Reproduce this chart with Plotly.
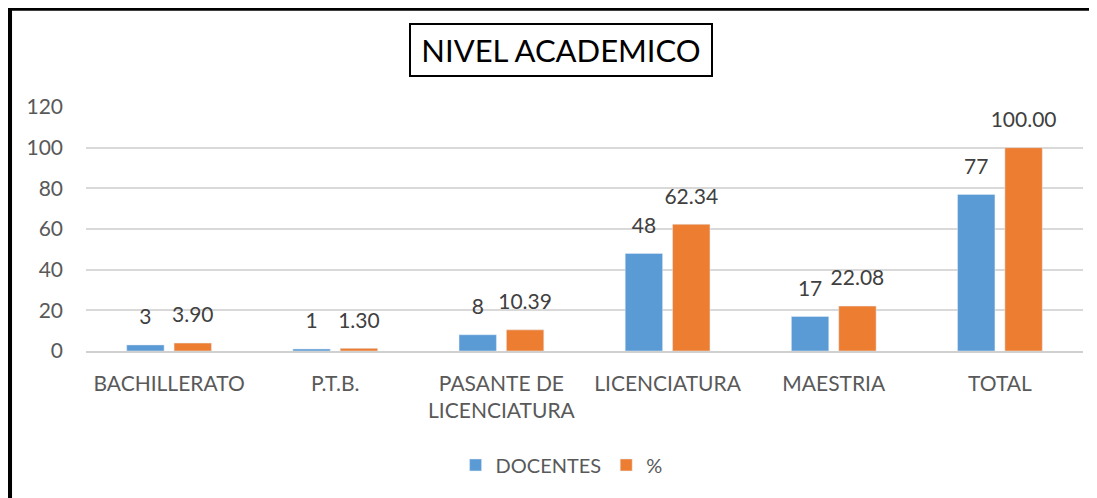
import plotly.graph_objects as go

categorias = ["BACHILLERATO", "P.T.B.", "PASANTE DE<br>LICENCIATURA", "LICENCIATURA", "MAESTRIA", "TOTAL"]
docentes = [3, 1, 8, 48, 17, 77]
porcentaje = [3.90, 1.30, 10.39, 62.34, 22.08, 100.00]

azul = "#5B9BD5"
naranja = "#ED7D31"
fuente = "Lato"

fig = go.Figure()
fig.add_trace(go.Bar(x=categorias, y=docentes, name="DOCENTES", marker_color=azul,
                     offsetgroup="d", hoverinfo="skip"))
fig.add_trace(go.Bar(x=categorias, y=porcentaje, name="%", marker_color=naranja,
                     offsetgroup="p", hoverinfo="skip"))

# etiquetas de datos, separadas de la barra como en Excel
fig.add_trace(go.Scatter(x=categorias, y=docentes, mode="markers+text",
                         text=[str(v) for v in docentes], textposition="top center",
                         marker=dict(size=23, opacity=0), offsetgroup="d",
                         textfont=dict(family=fuente, size=21, color="#404040"),
                         showlegend=False, hoverinfo="skip"))
fig.add_trace(go.Scatter(x=categorias, y=porcentaje, mode="markers+text",
                         text=[f"{v:.2f}" for v in porcentaje], textposition="top center",
                         marker=dict(size=23, opacity=0), offsetgroup="p",
                         textfont=dict(family=fuente, size=21, color="#404040"),
                         showlegend=False, hoverinfo="skip"))

# la pagina tiene 8px de margen, por eso la figura es 8px mas pequena
fig.update_layout(
    width=1089, height=490, autosize=False,
    margin=dict(l=78, r=14, t=99, b=147),
    paper_bgcolor="white", plot_bgcolor="white",
    font=dict(family=fuente, size=21, color="#595959"),
    barmode="group", bargap=0.43, bargroupgap=0.21,
    scattermode="group", scattergap=0.43,
    showlegend=True,
    legend=dict(orientation="h", x=0.477, xanchor="center", y=-0.467, yanchor="middle",
                font=dict(size=20, color="#595959"), itemwidth=30),
)
fig.update_xaxes(showgrid=False, showline=True, linecolor="#D0D0D0", linewidth=1.5,
                 ticks="", ticklabelstandoff=13, tickfont=dict(size=21, color="#595959"))
fig.update_yaxes(range=[0, 120], dtick=20, showgrid=True, gridcolor="#D9D9D9", gridwidth=1.5,
                 zeroline=False, showline=False, ticks="", ticklabelstandoff=22,
                 tickfont=dict(size=21, color="#595959"))

# titulo con recuadro
fig.add_annotation(text="NIVEL ACADEMICO", xref="paper", yref="paper", x=0.4764, y=1.2348,
                   xanchor="center", yanchor="middle", showarrow=False,
                   font=dict(family=fuente, size=31, color="black"),
                   width=300, height=50, bordercolor="black", borderwidth=2, borderpad=0)

# borde negro superior e izquierdo
fig.add_shape(type="line", xref="paper", yref="paper", x0=-0.0767, x1=1.05, y0=1.4016, y1=1.4016,
              line=dict(color="black", width=3.5))
fig.add_shape(type="line", xref="paper", yref="paper", x0=-0.0767, x1=-0.0767, y0=1.41, y1=-0.62,
              line=dict(color="black", width=5))

fig.write_html("out.html")
